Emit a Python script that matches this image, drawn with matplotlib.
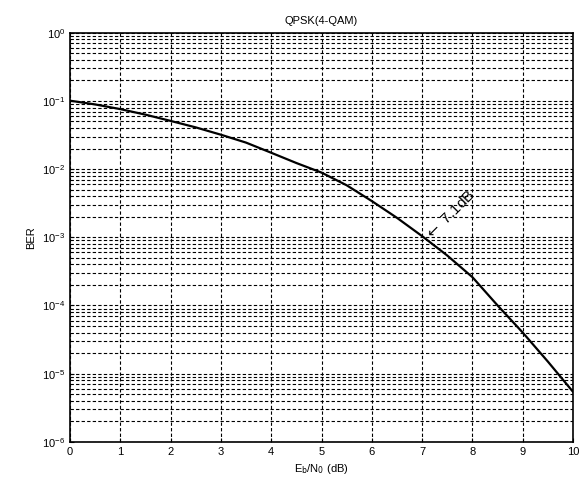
import numpy as np
import matplotlib
matplotlib.use('Agg')
import matplotlib.pyplot as plt

plt.rcParams['font.family'] = ['Liberation Sans', 'DejaVu Sans']

ebn0_db = [0, 0.5, 1, 1.5, 2, 2.5, 3, 3.5, 4, 4.5, 5, 5.5, 6, 6.5, 7, 7.5, 8, 8.5, 9, 9.5, 10]
ber = [1.01e-1, 8.9e-2, 7.6e-2, 6.3e-2, 5.1e-2, 4.1e-2, 3.2e-2, 2.45e-2, 1.74e-2, 1.23e-2,
       8.9e-3, 5.8e-3, 3.4e-3, 1.93e-3, 1.04e-3, 5.4e-4, 2.6e-4, 1.0e-4, 4.0e-5, 1.5e-5, 5.4e-6]
x_ticks = [0, 1, 2, 3, 4, 5, 6, 7, 8, 9, 10]
y_ticks = [1e-6, 1e-5, 1e-4, 1e-3, 1e-2, 1e-1, 1e0]

fig = plt.figure(figsize=(5.83, 4.97), dpi=100)
ax = fig.add_axes([0.120, 0.111, 0.863, 0.823])

ax.semilogy(ebn0_db, ber, color='black', linewidth=1.6)
ax.set_xlim(0, 10)
ax.set_ylim(1e-6, 1)
ax.set_xticks(x_ticks)
ax.set_yticks(y_ticks)
ax.grid(True, which='major', linestyle=(0, (3, 2)), color='black', linewidth=0.8)
ax.grid(True, which='minor', axis='y', linestyle=(0, (3, 2)), color='black', linewidth=0.8)
ax.tick_params(which='both', direction='in', labelsize=8, length=3)
ax.tick_params(which='minor', length=2)
for s in ax.spines.values():
    s.set_linewidth(1.2)

ax.set_title('QPSK(4-QAM)', fontsize=8)
ax.set_ylabel('BER', fontsize=8)
ax.set_xlabel(r'E$_\mathrm{b}$/N$_\mathrm{0}$ (dB)', fontsize=8)

ax.text(7.1, 1e-3, r'$\leftarrow$ 7.1dB', rotation=45, fontsize=11,
        ha='left', va='center', rotation_mode='anchor')

fig.savefig('out.png', dpi=100)
